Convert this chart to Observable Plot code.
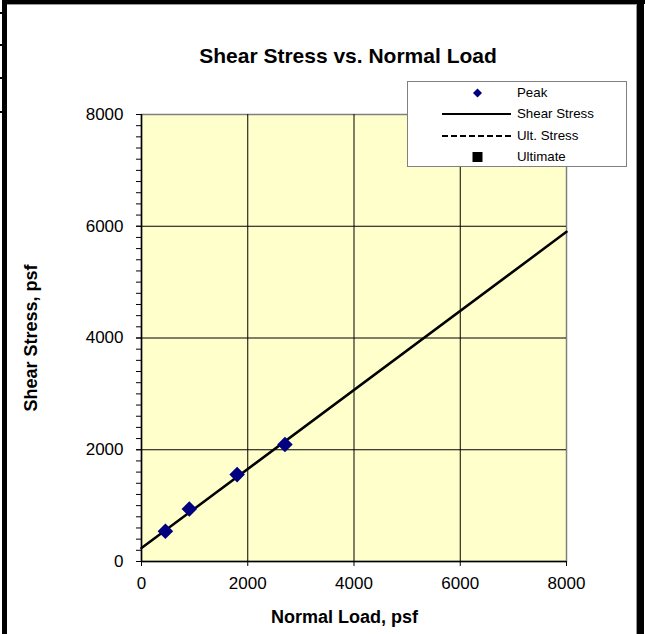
<!DOCTYPE html>
<html>
<head>
<meta charset="utf-8">
<script src="https://cdn.jsdelivr.net/npm/d3@7"></script>
<script src="https://cdn.jsdelivr.net/npm/@observablehq/plot@0.6"></script>
<style>
  html, body { margin: 0; padding: 0; background: #fff; }
  #wrap { position: relative; width: 645px; height: 634px; overflow: hidden; background: #fff;
          font-family: "Liberation Sans", Arial, sans-serif; color: #000; }
  #chart { position: absolute; left: 0; top: 0; }
  .bar { position: absolute; background: #000; }
  .gline { position: absolute; background: #9a9a9a; }
  #title { position: absolute; left: 0; width: 696px; top: 44px; text-align: center;
           font-weight: bold; font-size: 21px; line-height: 24px; white-space: nowrap; }
  #xlabel { position: absolute; left: 0; width: 689px; top: 606px; text-align: center;
            font-weight: bold; font-size: 18px; line-height: 22px; white-space: nowrap; }
  #ylabel { position: absolute; left: 31px; top: 338px; transform: translate(-50%, -50%) rotate(-90deg);
            font-weight: bold; font-size: 18px; line-height: 22px; white-space: nowrap; }
  #legend { position: absolute; left: 407px; top: 81px; width: 220px; height: 86px;
            background: #fff; border: 1px solid #808080; box-sizing: border-box; }
  .lrow { position: absolute; left: 0; width: 100%; height: 20px; }
  .lrow svg { position: absolute; left: 30px; top: 0; }
  .lrow span { position: absolute; left: 109px; top: 2px; font-size: 13.3px; line-height: 16px; white-space: nowrap; }
</style>
</head>
<body>
<div id="wrap">
  <div id="chart"></div>
  <div id="title"></div>
  <div id="xlabel"></div>
  <div id="ylabel"></div>
  <div id="legend"></div>
  <div class="bar" style="left:2px; top:0; width:5px; height:634px;"></div>
  <div class="bar" style="left:2px; top:0; width:643px; height:4px;"></div>
  <div class="bar" style="left:637px; top:0; width:7px; height:634px;"></div>
  <div class="gline" style="left:7px; top:4px; width:630px; height:1px;"></div>
  <div class="gline" style="left:636px; top:4px; width:1px; height:630px;"></div>
  <div class="bar" style="left:0; top:12px; width:3px; height:2px;"></div>
  <div class="bar" style="left:0; top:44px; width:3px; height:2px;"></div>
  <div class="bar" style="left:0; top:77px; width:3px; height:2px;"></div>
  <div class="bar" style="left:0; top:111px; width:3px; height:2px;"></div>
</div>
<script>
// ---- data ----
const titleText = "Shear Stress vs. Normal Load";
const xLabel = "Normal Load, psf";
const yLabel = "Shear Stress, psf";

const peakLoad = [450, 900, 1800, 2700];
const peakShear = [540, 940, 1555, 2095];

const fitLoad = [0, 8000];
const fitShear = [240, 5900];

const majorTicks = [0, 2000, 4000, 6000, 8000];
const gridTicks = [2000, 4000, 6000];
const minorTicksY = [0, 200, 400, 600, 800, 1000, 1200, 1400, 1600, 1800, 2000,
  2200, 2400, 2600, 2800, 3000, 3200, 3400, 3600, 3800, 4000,
  4200, 4400, 4600, 4800, 5000, 5200, 5400, 5600, 5800, 6000,
  6200, 6400, 6600, 6800, 7000, 7200, 7400, 7600, 7800, 8000];

const legendItems = ["Peak", "Shear Stress", "Ult. Stress", "Ultimate"];

// ---- tables ----
const peak = peakLoad.map((x, i) => ({load: x, shear: peakShear[i]}));
const fit = fitLoad.map((x, i) => ({load: x, shear: fitShear[i]}));

const chart = Plot.plot({
  width: 645,
  height: 634,
  marginLeft: 141,
  marginRight: 79,
  marginTop: 114,
  marginBottom: 73,
  style: {fontFamily: "'Liberation Sans', Arial, sans-serif", fontSize: "17px", color: "#000", background: "transparent"},
  x: {domain: [0, 8000], label: null},
  y: {domain: [0, 8000], label: null},
  marks: [
    Plot.frame({fill: "#FFFFCC", stroke: "#808080", strokeWidth: 1.5}),
    Plot.gridX(gridTicks, {stroke: "#000", strokeOpacity: 1, strokeWidth: 1}),
    Plot.gridY(gridTicks, {stroke: "#000", strokeOpacity: 1, strokeWidth: 1}),
    Plot.axisY(minorTicksY, {tickSize: 5, fill: "none", stroke: "#000", strokeOpacity: 1, label: null}),
    Plot.axisY(majorTicks, {tickSize: 5, tickPadding: 13, stroke: "#000", strokeOpacity: 1, label: null, tickFormat: d => String(d)}),
    Plot.axisX(majorTicks, {tickSize: 5, tickPadding: 10, stroke: "#000", strokeOpacity: 1, label: null, tickFormat: d => String(d)}),
    Plot.ruleX([0], {stroke: "#000", strokeWidth: 1.5}),
    Plot.ruleY([0], {stroke: "#000", strokeWidth: 1.5}),
    Plot.line(fit, {x: "load", y: "shear", stroke: "#000", strokeWidth: 2.5}),
    Plot.dot(peak, {x: "load", y: "shear", symbol: "diamond2", r: 7, fill: "#000080", stroke: null})
  ]
});
document.getElementById("chart").appendChild(chart);

document.getElementById("title").textContent = titleText;
document.getElementById("xlabel").textContent = xLabel;
document.getElementById("ylabel").textContent = yLabel;

// ---- legend ----
const symbols = [
  '<svg width="80" height="20"><path d="M39.5,5.5 L44,10 L39.5,14.5 L35,10 Z" fill="#000080"/></svg>',
  '<svg width="80" height="20"><line x1="4" y1="10" x2="73" y2="10" stroke="#000" stroke-width="2"/></svg>',
  '<svg width="80" height="20"><line x1="4" y1="10" x2="73" y2="10" stroke="#000" stroke-width="2" stroke-dasharray="6,3"/></svg>',
  '<svg width="80" height="20"><rect x="34.5" y="5" width="10" height="10" fill="#000"/></svg>'
];
const rowTops = [1, 22, 44, 65];
const legend = document.getElementById("legend");
legendItems.forEach((name, i) => {
  const row = document.createElement("div");
  row.className = "lrow";
  row.style.top = rowTops[i] + "px";
  row.innerHTML = symbols[i] + "<span></span>";
  row.querySelector("span").textContent = name;
  legend.appendChild(row);
});
</script>
</body>
</html>
